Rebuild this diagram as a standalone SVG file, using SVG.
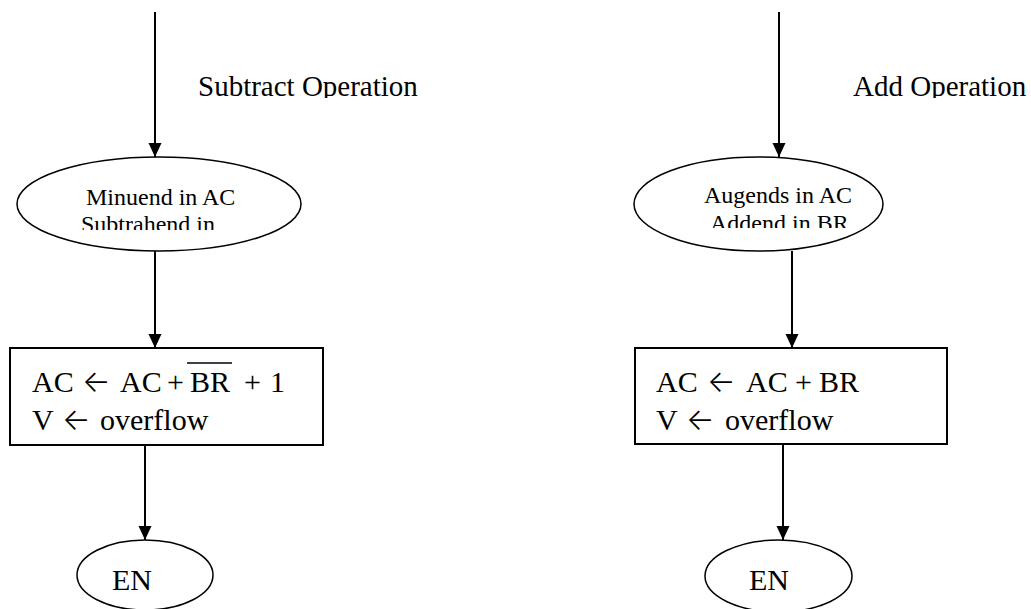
<svg xmlns="http://www.w3.org/2000/svg" width="1031" height="609" viewBox="0 0 1031 609">
<style>
.t{font-family:"Liberation Serif","Times New Roman",serif;fill:#000}
.ttl{font-size:29px}
.big{font-size:30px}
.mid{font-size:24px}
.arr{font-family:Inter,"DejaVu Sans",sans-serif;font-size:30px;font-weight:300}
.shape{fill:#fff;stroke:#000}
.edge{stroke:#000;stroke-width:2;fill:none}
</style>
<defs>
<marker id="ah" viewBox="0 0 14 14" markerWidth="14" markerHeight="15" refX="14" refY="7" orient="auto" markerUnits="userSpaceOnUse">
<path d="M0,0.5 L14,7 L0,13.5 Z" fill="#000"/>
</marker>
<clipPath id="c1"><rect x="0" y="50" width="1031" height="48"/></clipPath>
<clipPath id="c2"><rect x="40" y="180" width="240" height="50"/></clipPath>
<clipPath id="c3"><rect x="660" y="180" width="210" height="48"/></clipPath>
</defs>
<g id="connectors">
<line class="edge" x1="155" y1="12" x2="155" y2="157" marker-end="url(#ah)"/>
<line class="edge" x1="155" y1="251" x2="155" y2="348" marker-end="url(#ah)"/>
<line class="edge" x1="145" y1="445" x2="145" y2="540" marker-end="url(#ah)"/>
<line class="edge" x1="779" y1="12" x2="779" y2="157" marker-end="url(#ah)"/>
<line class="edge" x1="792" y1="251" x2="792" y2="348" marker-end="url(#ah)"/>
<line class="edge" x1="783" y1="444" x2="783" y2="540" marker-end="url(#ah)"/>
</g>
<g id="label-subtract"><text class="t ttl" x="198" y="96" clip-path="url(#c1)">Subtract Operation</text></g>
<g id="label-add"><text class="t ttl" x="853" y="96" clip-path="url(#c1)">Add Operation</text></g>
<g id="node-minuend">
<ellipse class="shape" cx="159" cy="204" rx="142" ry="47" stroke-width="1.5"/>
<g clip-path="url(#c2)">
<text class="t mid" x="86" y="205">Minuend in AC</text>
<text class="t mid" x="81" y="232">Subtrahend in</text>
</g>
</g>
<g id="node-augend">
<ellipse class="shape" cx="758.5" cy="204" rx="124.5" ry="47" stroke-width="1.5"/>
<g clip-path="url(#c3)">
<text class="t mid" x="704" y="203">Augends in AC</text>
<text class="t mid" x="710" y="231">Addend in BR</text>
</g>
</g>
<g id="node-sub-box">
<rect class="shape" x="10" y="348" width="313" height="97" stroke-width="2"/>
<text class="t big" y="392"><tspan x="32">AC</tspan><tspan class="arr" x="82">←</tspan><tspan x="120">AC</tspan><tspan x="167">+</tspan><tspan x="190">BR</tspan><tspan x="244">+</tspan><tspan x="270">1</tspan></text>
<line x1="187" y1="363" x2="232" y2="363" stroke="#000" stroke-width="1.5"/>
<text class="t big" y="430"><tspan x="32">V</tspan><tspan class="arr" x="62">←</tspan><tspan x="100">overflow</tspan></text>
</g>
<g id="node-add-box">
<rect class="shape" x="635" y="348" width="312" height="96" stroke-width="2"/>
<text class="t big" y="392"><tspan x="656">AC</tspan><tspan class="arr" x="707">←</tspan><tspan x="746">AC</tspan><tspan x="795">+</tspan><tspan x="819">BR</tspan></text>
<text class="t big" y="430"><tspan x="656">V</tspan><tspan class="arr" x="686">←</tspan><tspan x="725">overflow</tspan></text>
</g>
<g id="node-end-left">
<ellipse class="shape" cx="145" cy="575" rx="68" ry="35" stroke-width="1.5"/>
<text class="t big" x="112" y="590">EN</text>
</g>
<g id="node-end-right">
<ellipse class="shape" cx="778.5" cy="576" rx="73.5" ry="36" stroke-width="1.5"/>
<text class="t big" x="749" y="590">EN</text>
</g>
</svg>
